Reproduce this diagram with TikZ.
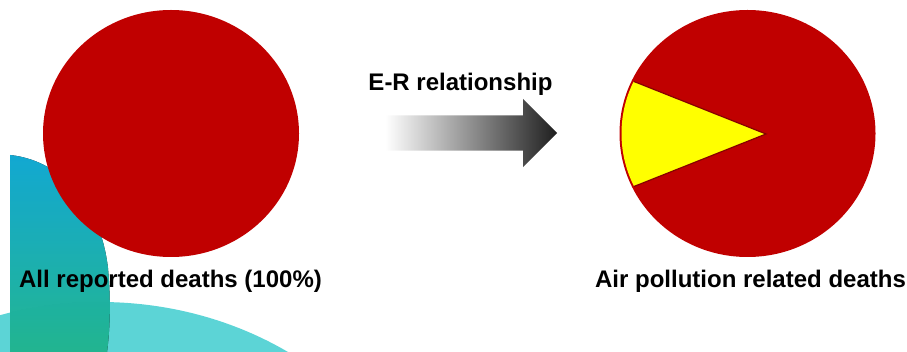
\documentclass[tikz,border=0pt]{standalone}
\usepackage{fontspec}
\setmainfont{Liberation Sans}
\usetikzlibrary{shapes.geometric,shapes.arrows,positioning}
\definecolor{deathred}{HTML}{C00000}
\definecolor{share}{HTML}{FFFF00}
\definecolor{cyanblob}{HTML}{12B4E2}
\definecolor{greenblob}{HTML}{25C39B}
\definecolor{paleblob}{HTML}{5CD4D6}

\begin{document}
\begin{tikzpicture}[x=1pt,y=-1pt,
  pie/.style={ellipse,fill=deathred,inner sep=0pt,minimum width=256pt,minimum height=247pt},
  caption/.style={font=\fontsize{24}{28}\selectfont\bfseries,anchor=base,inner sep=0pt},
  flow/.style={single arrow,single arrow head extend=16.5pt,inner xsep=0pt,inner ysep=17.5pt,
    text height=0pt,text depth=0pt,minimum height=172pt,left color=white,right color=black!88}
]
  \useasboundingbox (0,0) rectangle (907,352);
  % teal backdrop in the lower left corner
  \begin{scope}
    \clip (0,0) rectangle (907,352);
    \fill[paleblob] (100,602) ellipse [x radius=340, y radius=300];
    \fill[top color=cyanblob,bottom color=greenblob,opacity=.92]
      (10,352) -- (10,155) .. controls (58,160) and (100,200) .. (108,268)
      .. controls (111,300) and (110,330) .. (107,352) -- cycle;
  \end{scope}

  \node[pie] (allpie) at (171,133.5) {};
  \node[pie] (airpie) at (747.5,133.5) {};
  \begin{scope}
    \clip (airpie.center) ellipse [x radius=126, y radius=121.5];
    \fill[share,draw=deathred!70!black,line width=1.2pt] (766,134) -- (600,68) -- (600,200) -- cycle;
  \end{scope}

  \node[flow,anchor=tail] (er) at (385,133) {};

  \node[caption] (ertext) at (460.5,91) {E-R relationship};
  \node[caption] (alltext) at (170.5,288) {All reported deaths (100\%)};
  \node[caption] (airtext) at (750.5,288) {Air pollution related deaths};
\end{tikzpicture}
\end{document}
